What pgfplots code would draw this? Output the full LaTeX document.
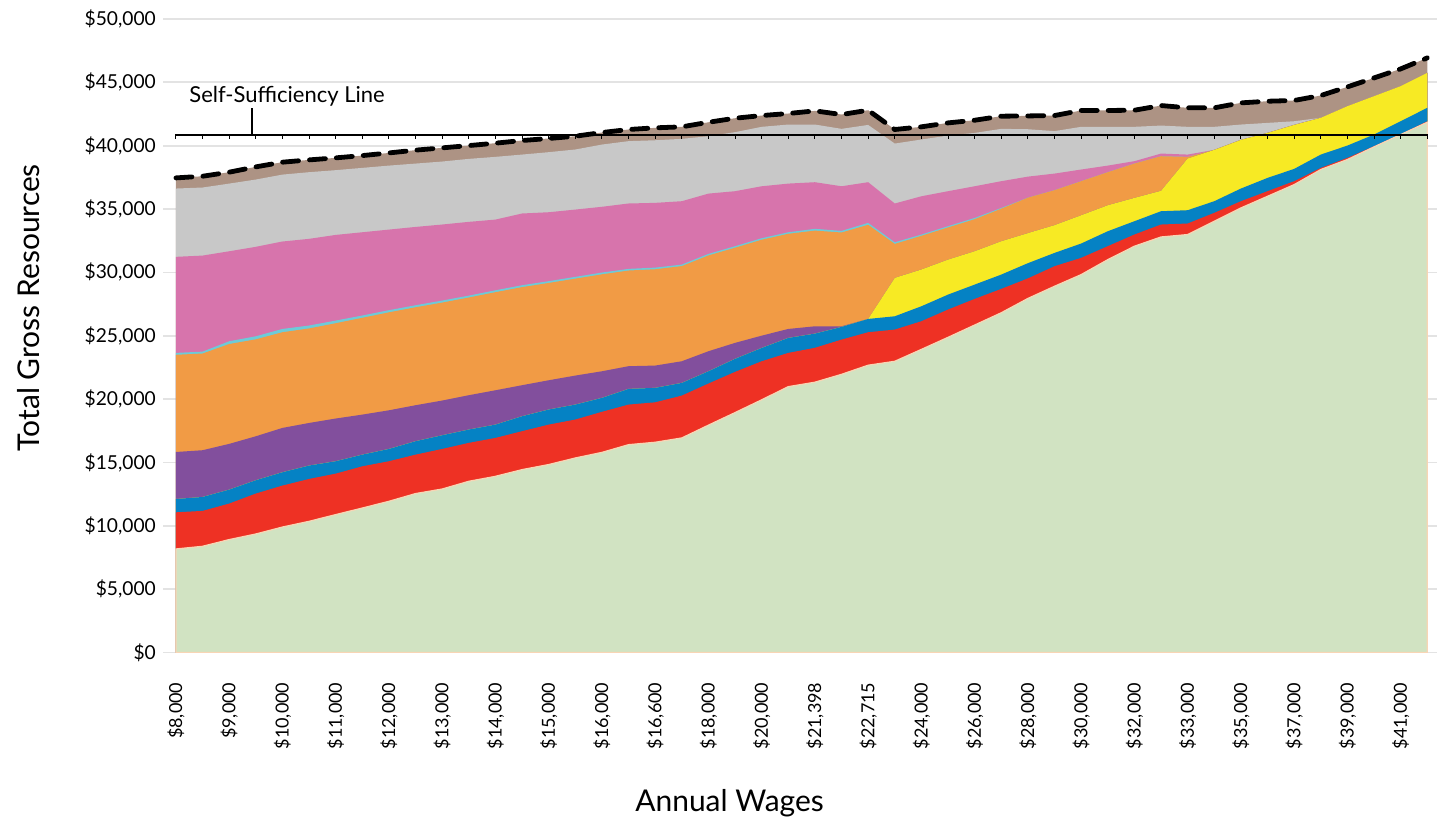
\documentclass[border=0pt]{standalone}
\usepackage{fontspec}
\setmainfont{Lato}
\usepackage{pgfplots}
\usepackage{pgfplotstable}
\pgfplotsset{compat=1.18}

\definecolor{cgreen}{HTML}{D1E3C2}
\definecolor{cpeach}{HTML}{F8D5B5}
\definecolor{cred}{HTML}{EE3124}
\definecolor{cblue}{HTML}{0582C4}
\definecolor{cyellow}{HTML}{F7EA24}
\definecolor{cpurple}{HTML}{824F9D}
\definecolor{corange}{HTML}{F19B45}
\definecolor{ccyan}{HTML}{6DCBD8}
\definecolor{cpink}{HTML}{D774AC}
\definecolor{cgray}{HTML}{C8C8C8}
\definecolor{cbrown}{HTML}{AD9384}
\definecolor{gridgray}{HTML}{E3E3E3}

% cumulative top of each layer (stacked from the bottom), one row per wage step
\pgfplotstableread{
i  green red   blue  yellow purple orange cyan  pink  gray  brown ss
0  8180  11070 12120 12120  15830  23500  23650 31230 36620 37460 40880
1  8390  11180 12280 12280  15970  23600  23750 31330 36700 37590 40880
2  8920  11760 12860 12860  16470  24350  24570 31670 37010 37910 40880
3  9360  12550 13600 13600  17070  24720  24960 32020 37330 38330 40880
4  9910  13180 14230 14230  17730  25280  25540 32440 37720 38700 40880
5  10360 13700 14760 14760  18120  25580  25810 32650 37910 38880 40880
6  10890 14120 15100 15100  18470  25990  26200 32960 38070 39040 40880
7  11410 14700 15620 15620  18780  26420  26600 33170 38250 39220 40880
8  11940 15100 16070 16070  19120  26850  27020 33380 38430 39430 40880
9  12550 15620 16680 16680  19520  27250  27410 33590 38590 39650 40880
10 12910 16070 17150 17150  19890  27620  27780 33780 38750 39830 40880
11 13520 16550 17600 17600  20310  28020  28170 33990 38960 40010 40880
12 13910 16940 17990 17990  20700  28440  28590 34170 39120 40200 40880
13 14440 17470 18650 18650  21100  28840  28990 34650 39300 40410 40880
14 14840 17990 19180 19180  21490  29170  29310 34750 39490 40570 40880
15 15360 18390 19570 19570  21860  29510  29650 34960 39700 40750 40880
16 15800 19000 20100 20100  22200  29850  29990 35180 40090 41040 40880
17 16410 19570 20810 20810  22600  30150  30280 35440 40360 41280 40880
18 16600 19750 20890 20890  22650  30250  30380 35490 40430 41410 40880
19 16940 20280 21280 21280  22990  30500  30620 35620 40540 41490 40880
20 17950 21230 22200 22200  23780  31340  31460 36220 40750 41850 40880
21 18940 22150 23180 23180  24440  31950  32070 36410 41070 42170 40880
22 19950 22990 24040 24040  25010  32580  32700 36800 41490 42380 40880
23 20990 23650 24830 24830  25540  33050  33170 37010 41670 42540 40880
24 21340 24050 25170 25170  25750  33300  33440 37120 41670 42750 40880
25 21960 24700 25700 25700  25750  33150  33280 36800 41330 42460 40880
26 22680 25280 26330 26330  26330  33760  33910 37120 41640 42800 40880
27 22990 25490 26540 29570  29570  32250  32380 35440 40170 41280 40880
28 23930 26150 27330 30230  30230  32890  32990 36010 40490 41490 40880
29 24880 27070 28250 31010  31010  33550  33650 36410 40800 41800 40880
30 25850 27910 29040 31670  31670  34200  34300 36800 41010 42010 40880
31 26820 28700 29830 32460  32460  35030  35090 37200 41330 42330 40880
32 27950 29530 30730 33100  33100  35900  35900 37560 41300 42350 40880
33 28910 30490 31540 33730  33730  36490  36490 37800 41150 42380 40880
34 29830 31150 32280 34510  34510  37200  37200 38120 41490 42780 40880
35 31010 32070 33250 35300  35300  37910  37910 38430 41490 42780 40880
36 32070 32990 34040 35880  35880  38590  38590 38780 41490 42800 40880
37 32800 33780 34830 36440  36440  39170  39170 39380 41590 43170 40880
38 32990 33860 34910 38990  38990  39120  39120 39300 41490 42990 40880
39 34040 34700 35620 39670  39670  39670  39670 39670 41490 42990 40880
40 35090 35620 36620 40460  40460  40460  40460 40460 41670 43380 40880
41 36010 36410 37460 41010  41010  41010  41010 41010 41800 43510 40880
42 36930 37200 38170 41640  41640  41640  41640 41640 41930 43570 40880
43 38120 38250 39300 42200  42200  42200  42200 42200 42200 43960 40880
44 38910 39040 40010 43120  43120  43120  43120 43120 43120 44640 40880
45 39910 39960 40880 43910  43910  43910  43910 43910 43910 45350 40880
46 40880 40900 41930 44700  44700  44700  44700 44700 44700 46060 40880
47 41850 41930 42990 45750  45750  45750  45750 45750 45750 46930 40880
}\resources

\begin{document}
\begin{tikzpicture}
\begin{axis}[
  scale only axis,
  width=637.5pt, height=317pt,
  xmin=-0.49, xmax=47.37,
  ymin=0, ymax=50000,
  axis line style={draw=none},
  major tick length=0pt,
  ymajorgrids,
  grid style={color=gridgray, line width=0.9pt},
  ytick={0,5000,...,50000},
  scaled y ticks=false,
  /pgf/number format/fixed,
  /pgf/number format/1000 sep={,},
  /pgf/number format/assume math mode=true,
  yticklabel={\$\pgfmathprintnumber{\tick}},
  yticklabel style={font=\fontsize{9.6}{11}\selectfont},
  xtick={0,2,...,46},
  xticklabels={{\$8,000},{\$9,000},{\$10,000},{\$11,000},{\$12,000},{\$13,000},
    {\$14,000},{\$15,000},{\$16,000},{\$16,600},{\$18,000},{\$20,000},
    {\$21,398},{\$22,715},{\$24,000},{\$26,000},{\$28,000},{\$30,000},
    {\$32,000},{\$33,000},{\$35,000},{\$37,000},{\$39,000},{\$41,000}},
  xticklabel style={rotate=90, anchor=east, font=\fontsize{9}{10}\selectfont},
  xticklabel shift=11.5pt,
]
% painter's order: top layer first, each filled down to zero
\addplot[fill=cbrown, draw=none] table[x=i, y=brown] {\resources} \closedcycle;
\addplot[fill=cgray, draw=none] table[x=i, y=gray] {\resources} \closedcycle;
\addplot[fill=cpink, draw=none] table[x=i, y=pink] {\resources} \closedcycle;
\addplot[fill=ccyan, draw=none] table[x=i, y=cyan] {\resources} \closedcycle;
\addplot[fill=corange, draw=none] table[x=i, y=orange] {\resources} \closedcycle;
\addplot[fill=cpurple, draw=none] table[x=i, y=purple] {\resources} \closedcycle;
\addplot[fill=cyellow, draw=none] table[x=i, y=yellow] {\resources} \closedcycle;
\addplot[fill=cblue, draw=none] table[x=i, y=blue] {\resources} \closedcycle;
\addplot[fill=cred, draw=none] table[x=i, y=red] {\resources} \closedcycle;
\addplot[fill=cgreen, draw=cpeach, line width=0.6pt] table[x=i, y=green] {\resources} \closedcycle;

% total resources
\addplot[black, line width=2.4pt, line cap=round, dash pattern=on 8pt off 5.5pt]
  table[x=i, y=brown] {\resources};

% self-sufficiency line
\addplot[black, line width=1pt] coordinates {(0,40880) (47,40880)};
\addplot[only marks, mark=|, mark size=1.2pt,
  mark options={black, line width=0.5pt, yshift=-1pt}]
  table[x=i, y=ss] {\resources};
\addplot[black, line width=1pt] coordinates {(2.85,40880) (2.85,43010)};
\node[anchor=base west, inner sep=0pt, font=\fontsize{11}{13}\selectfont]
  at (axis cs:0.49,43410) {Self-Sufficiency Line};
\end{axis}
\node[rotate=90, anchor=base, font=\fontsize{15}{18}\selectfont]
  at (-61.5pt,172.5pt) {Total Gross Resources};
\node[anchor=base, font=\fontsize{15}{18}\selectfont]
  at (283.5pt,-79.5pt) {Annual Wages};
\path (-81.5pt,-84.5pt) rectangle (637.5pt,326.5pt);
\end{tikzpicture}
\end{document}
